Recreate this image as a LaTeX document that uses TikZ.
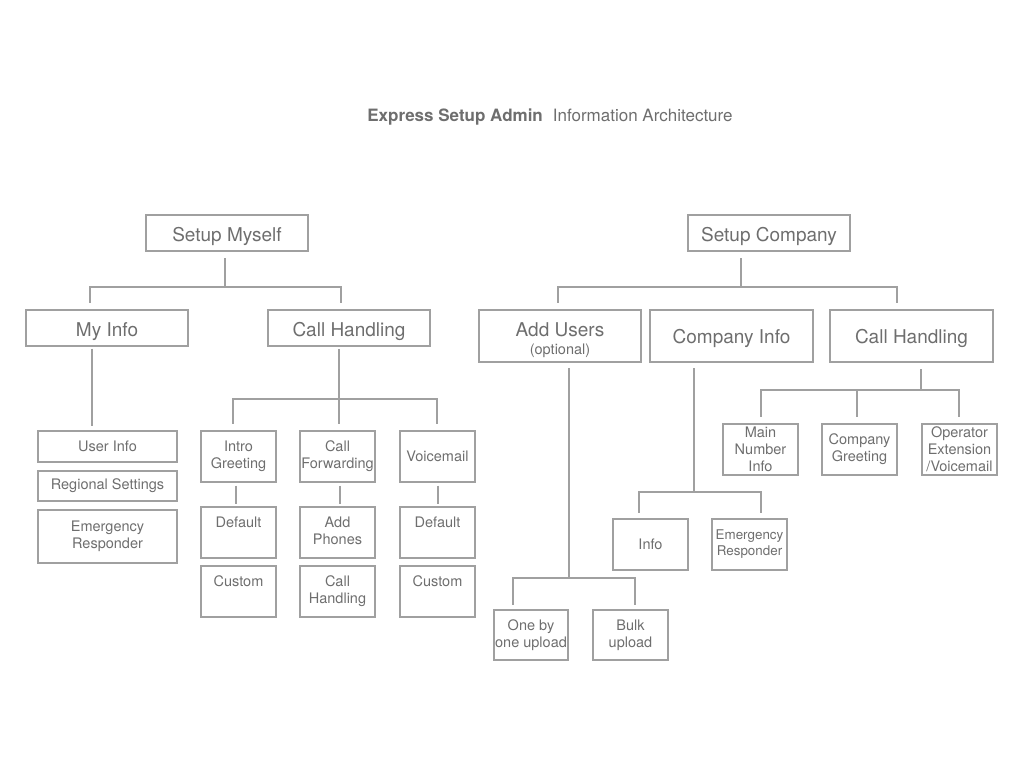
\documentclass[tikz,border=0pt]{standalone}
\usepackage{fontspec}
\setmainfont{TeX Gyre Heros}
\definecolor{txtgray}{HTML}{6E6E6E}
\definecolor{boxgray}{HTML}{A0A0A0}
\tikzset{
  box/.style={draw=boxgray, line width=1.2pt, text=txtgray, align=center, inner sep=0pt},
  headbox/.style={box, font=\fontsize{19}{22}\selectfont, minimum width=162, minimum height=36, text height=16pt, text depth=0pt},
  tallbox/.style={box, font=\fontsize{19}{22}\selectfont, minimum width=163, minimum height=52, text height=14pt, text depth=0pt},
  listbox/.style={box, font=\fontsize{14.5}{17}\selectfont, minimum width=139},
  leaf/.style={box, font=\fontsize{14.5}{17}\selectfont, minimum width=75, minimum height=51},
  leaftext/.style={anchor=north, yshift=-10, align=center, text=txtgray, inner sep=0pt, font=\fontsize{14.5}{17}\selectfont},
  link/.style={draw=boxgray, line width=1.2pt},
}

\begin{document}
\begin{tikzpicture}[x=1pt, y=-1pt]
			\useasboundingbox (0,0) rectangle (1024,768);
			
			\node[text=txtgray, font=\fontsize{17}{20}\selectfont] (title) at (550,117.5) {\textbf{Express Setup Admin}\hspace{10pt}Information Architecture};
			
			%%%%% SETUP MYSELF %%%%%
			\node[headbox] (sm) at (227,233) {Setup Myself};
			\node[headbox] (mi) at (107,328) {My Info};
			\node[headbox] (ch) at (349,328) {Call Handling};
			
			\coordinate (smbus) at (225,287);
			\draw[link, shorten >=6] (smbus) -- (smbus |- sm.south);
			\draw[link, shorten >=6] (smbus) -| ([xshift=-17]mi.north);
			\draw[link, shorten >=6] (smbus) -| ([xshift=-8]ch.north);
			
			\node[listbox, minimum height=31] (ui) at (107.5,446.5) {User Info};
			\node[listbox, minimum height=30] (rs) at (107.5,486) {Regional Settings};
			\node[listbox, minimum height=53] (er) at (107.5,536.5) {Emergency\\Responder};
			\draw[link, shorten <=2, shorten >=4] ([xshift=-15]mi.south) -- ([xshift=-15]mi.south |- ui.north);
			
			\node[leaf] (ig) at (238.5,456.5) {Intro\\Greeting};
			\node[leaf] (cf) at (337.5,456.5) {Call\\Forwarding};
			\node[leaf] (vm) at (437.5,456.5) {Voicemail};
			
			\coordinate (chbus) at (339,399);
			\draw[link, shorten >=2] (chbus) -- (chbus |- ch.south);
			\foreach \n/\dx in {ig/-5.5, cf/1.5, vm/-0.5}
				\draw[link, shorten >=6] (chbus) -| ([xshift=\dx]\n.north);
			
			\node[leaf, label={[leaftext]north:Default}] (igd) at (238.5,532.5) {};
			\node[leaf, label={[leaftext]north:Custom}] (igc) at (238.5,591.5) {};
			\node[leaf, label={[leaftext]north:Add\\Phones}] (cfa) at (337.5,532.5) {};
			\node[leaf, label={[leaftext]north:Call\\Handling}] (cfh) at (337.5,591.5) {};
			\node[leaf, label={[leaftext]north:Default}] (vmd) at (437.5,532.5) {};
			\node[leaf, label={[leaftext]north:Custom}] (vmc) at (437.5,591.5) {};
			
			\foreach \a/\b/\dx in {ig/igd/-2.5, cf/cfa/2.5, vm/vmd/0.5}
				\draw[link, shorten <=3, shorten >=2] ([xshift=\dx]\a.south) -- ([xshift=\dx]\a.south |- \b.north);
			
			%%%%% SETUP COMPANY %%%%%
			\node[headbox] (sc) at (769,233) {Setup Company};
			\node[box, font=\fontsize{19}{22}\selectfont, minimum width=162, minimum height=52] (au) at (560,336) {\rule{0pt}{22pt}Add Users\\[-4pt]{\fontsize{14.5}{17}\selectfont (optional)}};
			\node[tallbox] (ci) at (731.5,336) {Company Info};
			\node[tallbox] (cr) at (911.5,336) {Call Handling};
			
			\coordinate (scbus) at (741,287);
			\draw[link, shorten >=6] (scbus) -- (scbus |- sc.south);
			\draw[link, shorten >=6] (scbus) -| ([xshift=-2]au.north);
			\draw[link, shorten >=6] (scbus) -| ([xshift=-14.5]cr.north);
			
			% add users
			\node[leaf, minimum width=74, minimum height=50] (ob) at (531,635) {One by\\one upload};
			\node[leaf, minimum height=50] (bu) at (630.5,635) {Bulk\\upload};
			\coordinate (aubus) at (569,578);
			\draw[link, shorten >=5] (aubus) -- (aubus |- au.south);
			\foreach \n/\dx in {ob/-18, bu/4.5}
				\draw[link, shorten >=4] (aubus) -| ([xshift=\dx]\n.north);
			
			% company info
			\node[leaf] (inf) at (650.5,544.5) {Info};
			\node[leaf, font=\fontsize{13.4}{16}\selectfont] (ecr) at (749.5,544.5) {Emergency\\Responder};
			\coordinate (cibus) at (694,492);
			\draw[link, shorten >=5] (cibus) -- (cibus |- ci.south);
			\foreach \n/\dx in {inf/-11.5, ecr/11.5}
				\draw[link, shorten >=5] (cibus) -| ([xshift=\dx]\n.north);
			
			% call handling
			\node[leaf] (mn) at (760.5,449.5) {Main\\Number\\Info};
			\node[leaf] (cg) at (859.5,449.5) {Company\\Greeting};
			\node[leaf] (op) at (959.5,449.5) {Operator\\Extension\\/Voicemail};
			\coordinate (crbus) at (921,390);
			\draw[link, shorten >=6] (crbus) -- (crbus |- cr.south);
			\foreach \n/\dx in {mn/0.5, cg/-2.5, op/-0.5}
				\draw[link, shorten >=6] (crbus) -| ([xshift=\dx]\n.north);
		\end{tikzpicture}
\end{document}
